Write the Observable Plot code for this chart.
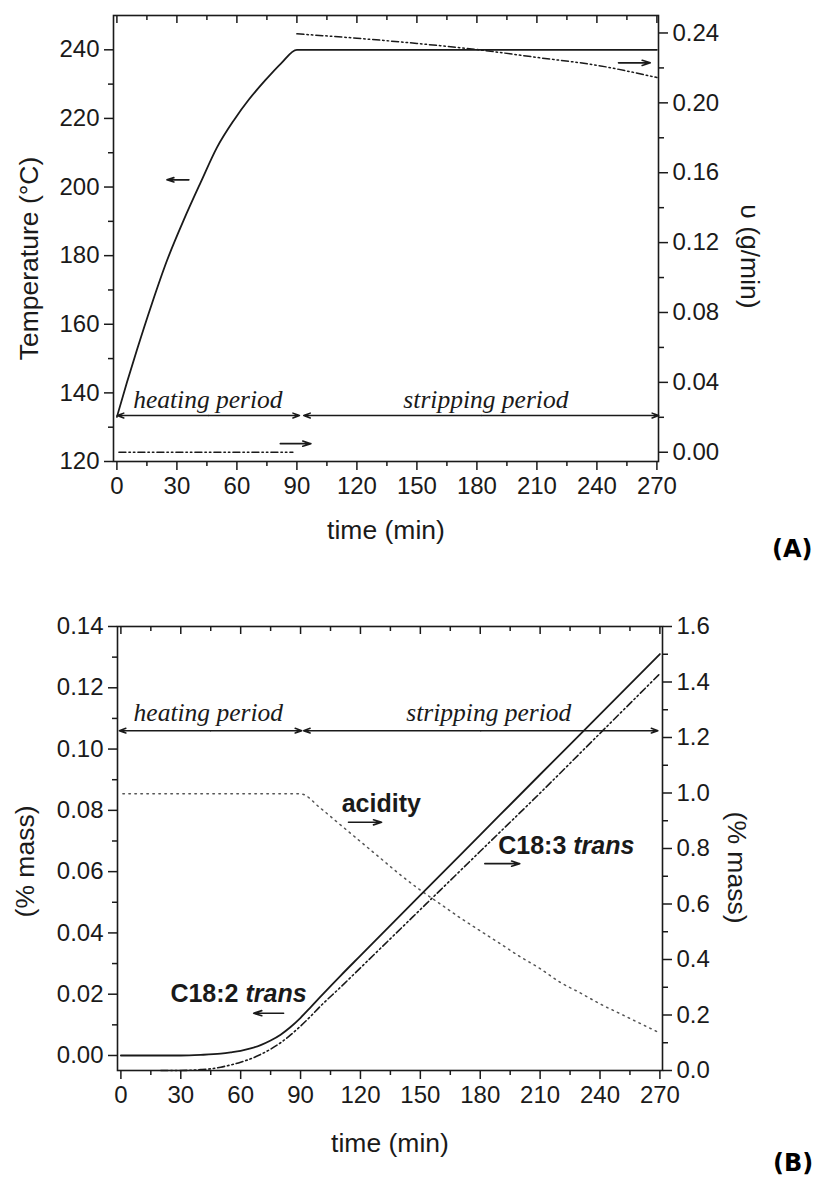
<!DOCTYPE html>
<html><head><meta charset="utf-8">
<script src="https://cdn.jsdelivr.net/npm/d3@7"></script>
<script src="https://cdn.jsdelivr.net/npm/@observablehq/plot@0.6"></script>
<style>
body{margin:0;background:#fff;}
#wrap{position:relative;width:814px;height:1177px;overflow:hidden;background:#fff;}
#wrap svg{display:block;}
.plabel{position:absolute;font-family:"DejaVu Sans",sans-serif;font-weight:bold;font-size:24px;line-height:24px;white-space:nowrap;}
</style></head><body><div id="wrap"></div>
<script>
// ---------- DATA ----------
// Panel A: temperature (left axis, °C)
const tempTime = [0, 5, 10, 17.5, 25, 33.5, 42, 50, 58.5, 66, 74, 82, 90, 270];
const tempVal  = [133, 143, 152.5, 166, 178.5, 190.5, 201.5, 211.5, 219.5, 225.5, 231, 236, 240, 240];
// Panel A: steam flow υ (right axis, g/min)
const flowHeatTime = [1, 30, 60, 88];
const flowHeatVal  = [0, 0, 0, 0];
const flowStripTime = [90, 120, 150, 180, 210, 240, 270];
const flowStripVal  = [0.2395, 0.237, 0.234, 0.2305, 0.226, 0.2215, 0.2145];
// Panel B: C18:2 trans (left axis, % mass)
const c182Time = [0, 30, 40, 50, 55, 60, 65, 70, 75, 80, 85, 90, 95, 100, 110, 120, 150, 180, 210, 240, 270];
const c182Val  = [0, 0, 0.0002, 0.0006, 0.001, 0.0015, 0.0023, 0.0034, 0.0049, 0.0068, 0.0093, 0.0123, 0.0157, 0.0192, 0.026, 0.0326, 0.0523, 0.072, 0.0917, 0.1113, 0.131];
// Panel B: C18:3 trans (right axis, % mass)
const c183Time = [20, 30, 40, 45, 50, 55, 60, 65, 70, 75, 80, 85, 90, 95, 100, 110, 120, 150, 180, 210, 240, 270];
const c183Val  = [0, 0, 0.003, 0.006, 0.012, 0.02, 0.03, 0.042, 0.058, 0.077, 0.1, 0.128, 0.16, 0.195, 0.232, 0.3, 0.37, 0.58, 0.79, 1.0, 1.215, 1.43];
// Panel B: acidity (right axis, % mass)
const acidTime = [1, 30, 60, 90, 100, 110, 120, 130, 140, 150, 160, 170, 180, 190, 200, 210, 220, 230, 240, 250, 260, 270];
const acidVal  = [0.997, 0.997, 0.997, 0.997, 0.945, 0.885, 0.825, 0.765, 0.705, 0.65, 0.6, 0.55, 0.503, 0.457, 0.41, 0.367, 0.318, 0.28, 0.24, 0.205, 0.17, 0.135];

// Tick values
const xMajor = [0, 30, 60, 90, 120, 150, 180, 210, 240, 270];
const xMinor = [15, 45, 75, 105, 135, 165, 195, 225, 255];
const tempMajor = [120, 140, 160, 180, 200, 220, 240];
const tempMinor = [130, 150, 170, 190, 210, 230];
const flowMajor = [0, 0.04, 0.08, 0.12, 0.16, 0.20, 0.24];
const flowMinor = [0.02, 0.06, 0.10, 0.14, 0.18, 0.22];
const massLMajor = [0, 0.02, 0.04, 0.06, 0.08, 0.10, 0.12, 0.14];
const massLMinor = [0.01, 0.03, 0.05, 0.07, 0.09, 0.11, 0.13];
const massRMajor = [0, 0.2, 0.4, 0.6, 0.8, 1.0, 1.2, 1.4, 1.6];
const massRMinor = [0.1, 0.3, 0.5, 0.7, 0.9, 1.1, 1.3, 1.5];

// Annotations (period arrows, pointer arrows, labels)
const periodsA = [
  {label: "heating period", t1: 0.15, t2: 91.3, tl: 45.5},
  {label: "stripping period", t1: 93.4, t2: 270.9, tl: 184.5}
];
const periodYA = 133.4;
const pointersA = [
  {x1: 36, x2: 25, y: 202.1},
  {x1: 250.8, x2: 266.7, y: 236.2},
  {x1: 81.7, x2: 97, y: 125.2}
];
const periodsB = [
  {label: "heating period", t1: -0.8, t2: 90.6, tl: 43.8},
  {label: "stripping period", t1: 91.5, t2: 269, tl: 184.3}
];
const periodYB = 0.106;
const pointersB = [
  {x1: 114, x2: 130.6, y: 0.0761},
  {x1: 182.3, x2: 199.8, y: 0.0626},
  {x1: 81.5, x2: 66.5, y: 0.0138}
];
const seriesLabelsB = [
  {name: "acidity", italic: "", t: 110.6, y: 0.0796},
  {name: "C18:3 ", italic: "trans", t: 189, y: 0.0659},
  {name: "C18:2 ", italic: "trans", t: 24.8, y: 0.0174}
];

// ---------- BUILD ----------
const zip = (ts, vs) => ts.map((t, i) => ({t, v: vs[i]}));
const sans = "Liberation Sans, Arial, sans-serif";
const serif = "Liberation Serif, Times New Roman, serif";
const ink = "#1a1a1a";
const wrap = document.getElementById("wrap");

const ctx = document.createElement("canvas").getContext("2d");
ctx.font = "bold 25px 'Liberation Sans'";

function axesMarks(xMaj, xMin, lMaj, lMin, lFmt, rMaj, rMin, rScale, rFmt, plotH) {
  return [
    Plot.axisX(xMaj, {tickSize: 9, tickPadding: 6, fontSize: 24, label: null, strokeWidth: 1.5}),
    Plot.axisX(xMin, {tickSize: 5, tickFormat: () => "", label: null, strokeWidth: 1.5}),
    Plot.ruleX(xMaj, {x: d => d, insetBottom: plotH - 8, strokeWidth: 1.5}),
    Plot.ruleX(xMin, {x: d => d, insetBottom: plotH - 5, strokeWidth: 1.5}),
    Plot.axisY(lMaj, {anchor: "left", tickSize: 9, tickPadding: 5, tickFormat: lFmt, label: null, fontSize: 24, strokeWidth: 1.5}),
    Plot.axisY(lMin, {anchor: "left", tickSize: 5, tickFormat: () => "", label: null, strokeWidth: 1.5}),
    Plot.axisY(rMaj, {anchor: "right", y: rScale, tickSize: 9, tickPadding: 5, tickFormat: rFmt, label: null, fontSize: 24, strokeWidth: 1.5}),
    Plot.axisY(rMin, {anchor: "right", y: rScale, tickSize: 5, tickFormat: () => "", label: null, strokeWidth: 1.5}),
    Plot.frame({strokeWidth: 1.6})
  ];
}

function periodMarks(periods, py, dyText) {
  return [
    Plot.arrow(periods, {x1: d => (d.t1 + d.t2) / 2, x2: "t1", y1: py, y2: py, headLength: 7, headAngle: 40, strokeWidth: 1.5, stroke: ink}),
    Plot.arrow(periods, {x1: d => (d.t1 + d.t2) / 2, x2: "t2", y1: py, y2: py, headLength: 7, headAngle: 40, strokeWidth: 1.5, stroke: ink}),
    Plot.text(periods, {x: "tl", y: py, text: "label", dy: dyText, lineAnchor: "bottom", fontFamily: serif, fontStyle: "italic", fontSize: 25.5, fill: ink})
  ];
}

function axisLabel(txt, anchor, dx, dy, rotate) {
  return Plot.text([txt], {text: d => d, frameAnchor: anchor, dx, dy, rotate, textAnchor: "middle", lineAnchor: "middle", fontSize: 26.5, fontFamily: sans, fill: ink});
}

// Panel A
const hA = 570, mtA = 15, mbA = 109, mlA = 113, mrA = 156;
const rA = d3.scaleLinear([-0.0053, 0.25], [120, 250]);
const chartA = Plot.plot({
  width: 814, height: hA, marginTop: mtA, marginBottom: mbA, marginLeft: mlA, marginRight: mrA,
  style: {fontFamily: sans, fontSize: "24px", color: ink, background: "white"},
  x: {domain: [-1.7, 270.8]},
  y: {domain: [120, 250]},
  marks: [
    ...axesMarks(xMajor, xMinor, tempMajor, tempMinor, d3.format("d"), flowMajor, flowMinor, rA, d3.format(".2f"), hA - mtA - mbA),
    Plot.line(zip(tempTime, tempVal), {x: "t", y: "v", curve: "monotone-x", strokeWidth: 1.8, stroke: ink}),
    Plot.line(zip(flowHeatTime, flowHeatVal), {x: "t", y: d => rA(d.v), strokeWidth: 1.5, stroke: ink, strokeDasharray: "7,3,1.5,3,1.5,3"}),
    Plot.line(zip(flowStripTime, flowStripVal), {x: "t", y: d => rA(d.v), curve: "monotone-x", strokeWidth: 1.5, stroke: ink, strokeDasharray: "7,3,1.5,3,1.5,3"}),
    ...periodMarks(periodsA, periodYA, -8),
    Plot.arrow(pointersA, {x1: "x1", x2: "x2", y1: "y", y2: "y", headLength: 8, headAngle: 35, strokeWidth: 1.6, stroke: ink}),
    axisLabel("Temperature (°C)", "left", -84, 20, -90),
    axisLabel("\u03C5 (g/min)", "right", 91, 18, 90),
    axisLabel("time (min)", "bottom", 0, 69, 0)
  ]
});
wrap.appendChild(chartA);

// Panel B
const hB = 607, mtB = 56, mbB = 107, mlB = 117, mrB = 152;
const rB = d3.scaleLinear([0, 1.6], [-0.0049, 0.14]);
const chartB = Plot.plot({
  width: 814, height: hB, marginTop: mtB, marginBottom: mbB, marginLeft: mlB, marginRight: mrB,
  style: {fontFamily: sans, fontSize: "24px", color: ink, background: "white"},
  x: {domain: [-1.7, 271.3]},
  y: {domain: [-0.0049, 0.14]},
  marks: [
    ...axesMarks(xMajor, xMinor, massLMajor, massLMinor, d3.format(".2f"), massRMajor, massRMinor, rB, d3.format(".1f"), hB - mtB - mbB),
    Plot.line(zip(acidTime, acidVal), {x: "t", y: d => rB(d.v), curve: "monotone-x", strokeWidth: 1.5, stroke: "#555", strokeDasharray: "1.5,4.5"}),
    Plot.line(zip(c183Time, c183Val), {x: "t", y: d => rB(d.v), curve: "monotone-x", strokeWidth: 1.6, stroke: ink, strokeDasharray: "7,3,1.5,3,1.5,3"}),
    Plot.line(zip(c182Time, c182Val), {x: "t", y: "v", curve: "monotone-x", strokeWidth: 1.8, stroke: ink}),
    ...periodMarks(periodsB, periodYB, -10),
    Plot.arrow(pointersB, {x1: "x1", x2: "x2", y1: "y", y2: "y", headLength: 8, headAngle: 35, strokeWidth: 1.6, stroke: ink}),
    Plot.text(seriesLabelsB, {x: "t", y: "y", text: "name", textAnchor: "start", lineAnchor: "bottom", fontWeight: "bold", fontSize: 25, fontFamily: sans, fill: ink}),
    Plot.text(seriesLabelsB.filter(d => d.italic), {x: "t", y: "y", text: "italic", textAnchor: "start", lineAnchor: "bottom", fontWeight: "bold", fontStyle: "italic", fontSize: 25, fontFamily: sans, fill: ink}),
    axisLabel("(% mass)", "left", -92, 13, -90),
    axisLabel("(% mass)", "right", 74, 19, 90),
    axisLabel("time (min)", "bottom", 0, 73, 0)
  ]
});
wrap.appendChild(chartB);

// shift the italic "trans" parts by the measured width of their bold prefix
(function () {
  const labs = seriesLabelsB.filter(d => d.italic);
  const italicTexts = Array.from(chartB.querySelectorAll("text")).filter(t => t.textContent === "trans");
  italicTexts.forEach((el, i) => {
    const w = ctx.measureText(labs[i].name).width;
    const cur = +(el.getAttribute("x") || 0);
    el.setAttribute("x", cur + w);
  });
})();

// panel letters
const panelLetters = [{txt: "(A)", left: 772, top: 537}, {txt: "(B)", left: 773, top: 1151}];
panelLetters.forEach(p => {
  const d = document.createElement("div");
  d.className = "plabel"; d.textContent = p.txt;
  d.style.left = p.left + "px"; d.style.top = p.top + "px";
  wrap.appendChild(d);
});
</script>
</body></html>
